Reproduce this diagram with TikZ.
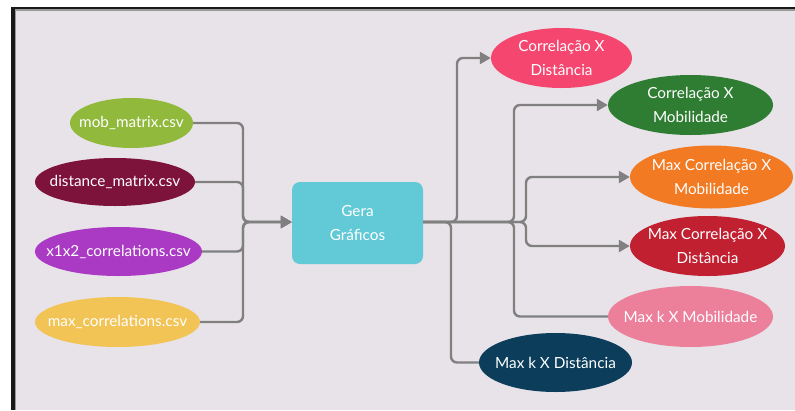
\documentclass[tikz,border=0pt]{standalone}
\usepackage{fontspec}
\setmainfont{Lato}
\usetikzlibrary{shapes.geometric,arrows.meta}
\definecolor{bgc}{RGB}{231,227,232}
\definecolor{linec}{RGB}{128,128,128}
\definecolor{cmob}{RGB}{145,185,60}
\definecolor{cdist}{RGB}{125,18,58}
\definecolor{cx1x2}{RGB}{170,58,195}
\definecolor{cmaxc}{RGB}{242,195,85}
\definecolor{cbox}{RGB}{98,201,214}
\definecolor{ccxd}{RGB}{245,70,112}
\definecolor{ccxm}{RGB}{46,125,50}
\definecolor{cmcxm}{RGB}{242,122,35}
\definecolor{cmcxd}{RGB}{192,32,48}
\definecolor{cmkxm}{RGB}{236,128,155}
\definecolor{cmkxd}{RGB}{12,62,92}
\begin{document}
\begin{tikzpicture}[x=1pt,y=-1pt,
  txt/.style={text=white, align=center, font=\fontsize{15.3}{23.5}\selectfont},
  oval/.style 2 args={ellipse, inner sep=0pt, minimum width=#1, minimum height=#2},
  conn/.style={draw=linec, line width=2.4pt, rounded corners=6pt},
  arr/.style={conn, -{Triangle[length=11pt,width=12pt]}}]
\useasboundingbox (0,0) rectangle (795,410);
\fill[white] (0,0) rectangle (795,410);
\fill[black!90] (11,7) rectangle (795,410);
\fill[black!40] (14.5,9) rectangle (795,410);
\fill[bgc] (16,10.5) rectangle (795,410);
% inputs
\node[oval={123pt}{50pt}, fill=cmob, label={[txt]center:mob\_matrix.csv}] (mob) at (131.5,123) {};
\node[oval={160pt}{48pt}, fill=cdist, label={[txt]center:distance\_matrix.csv}] (dist) at (115,182) {};
\node[oval={167pt}{49pt}, fill=cx1x2, label={[txt]center:x1x2\_correlations.csv}] (x1x2) at (118.5,251.5) {};
\node[oval={165pt}{50pt}, fill=cmaxc, label={[txt]center:max\_correlations.csv}] (maxc) at (117.5,322) {};
% central box
\node[fill=cbox, rounded corners=8pt, minimum width=131pt, minimum height=82pt, inner sep=0pt, txt] (box) at (357.5,223) {Gera\\Gráficos};
% outputs
\node[oval={141pt}{60pt}, fill=ccxd, label={[txt]center:Correlação X\\Distância}] (cxd) at (561.5,58) {};
\node[oval={165pt}{60pt}, fill=ccxm, label={[txt]center:Correlação X\\Mobilidade}] (cxm) at (690.5,105) {};
\node[oval={163pt}{63pt}, fill=cmcxm, label={[txt]center:Max Correlação X\\Mobilidade}] (mcxm) at (711.5,177) {};
\node[oval={155pt}{60pt}, fill=cmcxd, label={[txt]center:Max Correlação X\\Distância}] (mcxd) at (707.5,246) {};
\node[oval={165pt}{61pt}, fill=cmkxm, label={[txt]center:Max k X Mobilidade}] (mkxm) at (690.5,316.5) {};
\node[oval={153pt}{59pt}, fill=cmkxd, label={[txt]center:Max k X Distância}] (mkxd) at (555.5,362.5) {};
% junction coordinates
\coordinate (in) at (box.west |- 0,222);
\coordinate (out) at (box.east |- 0,222);
% left connectors
\draw[arr] (mob.east) -- (243,123) -- (243,222) -- (in);
\draw[arr] (dist.east) -- (243,182) -- (243,222) -- (in);
\draw[arr] (x1x2.east) -- (243,251.5) -- (243,222) -- (in);
\draw[arr] (maxc.east) -- (243,322) -- (243,222) -- (in);
% right connectors
\draw[arr] (out) -- (457,222) -- (457,58) -- (cxd.west);
\draw[arr] (out) -- (514,222) -- (514,105) -- (cxm.west);
\draw[arr] (out) -- (526,222) -- (526,177) -- (mcxm.west);
\draw[arr] (out) -- (526,222) -- (526,246) -- (mcxd.west);
\draw[conn] (out) -- (514,222) -- (514,316.5) -- (mkxm.west);
\draw[conn] (out) -- (451,222) -- (451,362.5) -- (mkxd.west);
\end{tikzpicture}
\end{document}
